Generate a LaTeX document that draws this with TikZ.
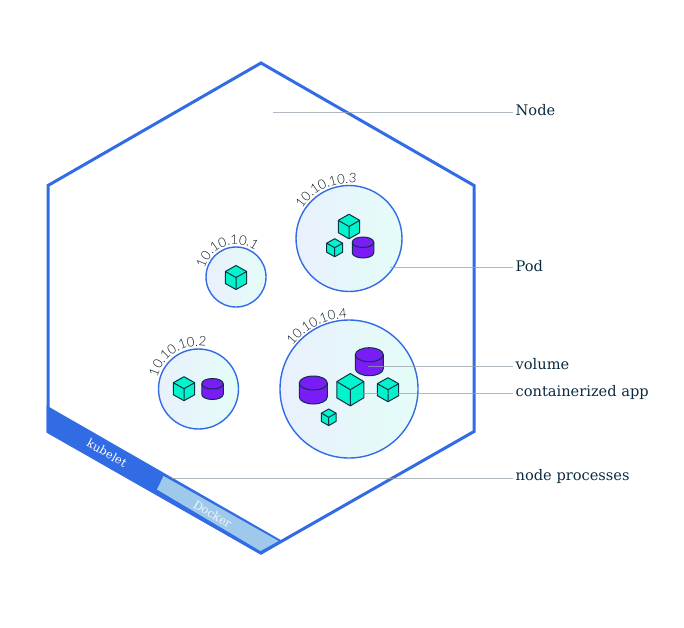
\documentclass[tikz,border=0pt]{standalone}
\usepackage{fontspec}
\usetikzlibrary{decorations.text,shadings}
\setmainfont{DejaVu Serif}
\newfontfamily\podfont{Lato Light}
\definecolor{hexblue}{HTML}{326CE5}
\definecolor{dockerblue}{HTML}{9FC9EA}
\definecolor{inktext}{HTML}{0B2A40}
\definecolor{podink}{HTML}{04141F}
\definecolor{leadgrey}{HTML}{A9B2BC}
\definecolor{cubefill}{HTML}{00F5CC}
\definecolor{cylfill}{HTML}{7A1CF5}
\definecolor{icondark}{HTML}{0C3345}
\definecolor{podleft}{HTML}{E9F0FC}
\definecolor{podright}{HTML}{E4FDF8}
\tikzset{
  podcircle/.style={circle,draw=hexblue,line width=1.4pt,inner sep=0pt,left color=podleft,right color=podright},
  leadline/.style={draw=leadgrey!90!black,line width=0.9pt,opacity=.75},
  calllabel/.style={anchor=west,inner sep=0pt,text=inktext,font=\fontsize{14.6}{16}\selectfont},
  bandlabel/.style={text=white,font=\fontsize{11.5}{13}\selectfont,rotate=-30,inner sep=0pt},
  iconline/.style={draw=icondark,line width=1pt,line join=round},
}
\newcommand\cubeat[4]{% cx cy r w
  \draw[iconline,fill=cubefill] (#1,#2-#3) -- (#1+#4,#2-#3/2) -- (#1+#4,#2+#3/2) -- (#1,#2+#3) -- (#1-#4,#2+#3/2) -- (#1-#4,#2-#3/2) -- cycle;
  \draw[iconline] (#1-#4,#2-#3/2) -- (#1,#2) -- (#1+#4,#2-#3/2) (#1,#2) -- (#1,#2+#3);
}
\newcommand\cylat[4]{% cx cy w h
  \pgfmathsetmacro\ry{#4*0.25}
  \pgfmathsetmacro\rxx{#3/2}
  \pgfmathsetmacro\topy{#2-#4/2+\ry}
  \pgfmathsetmacro\boty{#2+#4/2-\ry}
  \draw[iconline,fill=cylfill] (#1-\rxx,\topy) arc[start angle=180,end angle=0,x radius=\rxx pt,y radius=\ry pt]
     -- (#1+\rxx,\boty) arc[start angle=0,end angle=-180,x radius=\rxx pt,y radius=\ry pt] -- cycle;
  \draw[iconline] (#1-\rxx,\topy) arc[start angle=180,end angle=360,x radius=\rxx pt,y radius=\ry pt];
}
\newcommand\podlabel[5]{% cx cy R angle text
  \pgfmathsetmacro\aone{#4+80}
  \pgfmathsetmacro\atwo{#4-80}
  \begin{scope}[shift={(#1,#2)},x=1pt,y=1pt]
  \path[decorate,decoration={text along path,text align=center,
     text={|\podfont\fontsize{13.2}{14}\selectfont\color{podink}|#5}}]
     (\aone:#3pt) arc[start angle=\aone,end angle=\atwo,radius=#3pt];
  \end{scope}
}
\begin{document}
\begin{tikzpicture}[x=1pt,y=-1pt]
\useasboundingbox (0,0) rectangle (684,627);
% node hexagon
\draw[draw=hexblue,line width=3pt,line join=miter] (261,63) -- (474,185.5) -- (474,431.5) -- (261,553) -- (48,431.5) -- (48,185.5) -- cycle;
\fill[hexblue] (46.5,405.5) -- (282.5,541) -- (261,554.7) -- (46.5,432.5) -- cycle;
\fill[dockerblue] (163.5,476) -- (157,489.5) -- (260.5,551) -- (278.5,541) -- cycle;
\node[bandlabel] (kubelet) at (107,453) {kubelet};
\node[bandlabel,text=white!85!dockerblue] (docker) at (212.7,514) {Docker};
% pods
\node[podcircle,minimum size=60pt] (pod1) at (236,277) {};
\node[podcircle,minimum size=106pt] (pod3) at (349,238.5) {};
\node[podcircle,minimum size=138pt] (pod4) at (349,389) {};
\node[podcircle,minimum size=80pt] (pod2) at (198.5,389) {};
\podlabel{236}{277}{32.5}{109}{10.10.10.1}
\podlabel{349}{238.5}{55.5}{115}{10.10.10.3}
\podlabel{349}{389}{71}{117}{10.10.10.4}
\podlabel{198.5}{389}{43}{122}{10.10.10.2}
% icons
\cubeat{236}{277.5}{12}{10.7}
\cubeat{349}{226.5}{12.3}{10.7}
\cubeat{334.7}{247.7}{9}{8}
\cylat{363}{247.5}{21.5}{21}
\cylat{369.3}{361.7}{28}{28}
\cylat{313.3}{390}{28}{28}
\cubeat{350.3}{389.7}{16.2}{13.5}
\cubeat{388}{389.7}{12}{10.7}
\cubeat{328.7}{417.3}{8.3}{7.3}
\cubeat{184}{388.7}{12}{10.7}
\cylat{212.5}{389}{21.5}{21}
% labels and leaders
\node[calllabel] (lnode) at (515.5,110.5) {Node};
\node[calllabel] (lpod) at (515.5,266) {Pod};
\node[calllabel] (lvol) at (515.5,364) {volume};
\node[calllabel] (lapp) at (515.5,392.5) {containerized app};
\node[calllabel] (lproc) at (515.5,476.5) {node processes};
\coordinate (cnode) at (273,112.5);
\coordinate (cpod) at (390,267.5);
\coordinate (cvol) at (368,366);
\coordinate (capp) at (352,393.5);
\coordinate (cproc) at (172,478.5);
\draw[leadline] (cnode) -- ([xshift=-3pt]cnode -| lnode.west);
\draw[leadline] (cpod) -- ([xshift=-3pt]cpod -| lpod.west);
\draw[leadline] (cvol) -- ([xshift=-3pt]cvol -| lvol.west);
\draw[leadline] (capp) -- ([xshift=-3pt]capp -| lapp.west);
\draw[leadline] (cproc) -- ([xshift=-3pt]cproc -| lproc.west);
\end{tikzpicture}
\end{document}
